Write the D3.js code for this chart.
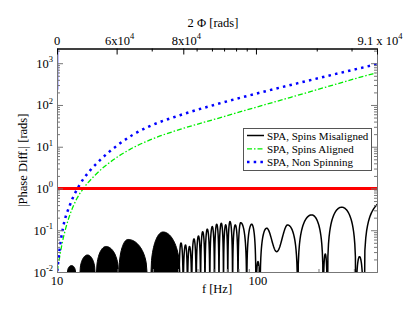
<!DOCTYPE html>
<html><head><meta charset="utf-8">
<script src="https://cdn.jsdelivr.net/npm/d3@7"></script>
<style>
body{margin:0;background:#fff}
svg{display:block}
svg text{font-family:"Liberation Serif","Times New Roman","DejaVu Serif",serif;fill:#000}
</style>
</head><body><svg id="c" width="415" height="321"></svg>
<script>
// ---------------- data ----------------
const freqDomain = [10, 391];
const phaseDiffDomain = [0.01, 2250];
const yMajorTicks = [0.01, 0.1, 1, 10, 100, 1000];
const yMajorExp = ["-2", "-1", "0", "1", "2", "3"];
const xLabelTicks = [10, 100];
const xLabelText = ["10", "100"];
// top axis (2 Phi): frequency at which each phase tick sits
const topMajorF = [10, 19.8, 42.5, 97.7, 391];
const topMajorBase = ["0", "6x10", "8x10", "", "9.1 x 10"];
const topMajorExp = ["", "4", "4", "", "4"];
const topMinorF = [29.6, 49.5, 59, 67.8, 77.8, 87.9, 196, 292];

// SPA, Non Spinning (blue dotted)
const nonSpinF = [10.03, 10.29, 10.71, 11.61, 12.87, 14.59, 16.37, 20.12, 23.88, 28.36, 40.92, 61.1, 98.9, 161.8, 373, 391];
const nonSpinV = [0.0105, 0.034, 0.114, 0.409, 1.16, 2.67, 4.77, 11.1, 19.4, 29.7, 56.9, 101.6, 188.8, 342, 900, 950];
const nonSpinSpike = [2250, 230];
// SPA, Spins Aligned (green dash-dot)
const alignedF = [10.03, 10.29, 10.59, 11.09, 11.61, 12.58, 13.47, 15.46, 19.06, 23.08, 29.02, 40.92, 61.1, 98.9, 161.8, 373, 385];
const alignedV = [0.0105, 0.0218, 0.0467, 0.119, 0.239, 0.582, 0.973, 2.08, 4.86, 8.66, 14.56, 26.0, 45.7, 89.6, 176.6, 557, 580];
// reference level
const unitLevel = [1];

// SPA, Spins Misaligned (black): dense blobs [fStart, fPeak, fEnd, peak]
const misBlobs = [
  [11.28, 11.81, 12.36, 0.0143],
  [13.02, 14.18, 15.46, 0.0256],
  [15.73, 17.53, 20.23, 0.0409],
  [20.35, 22.55, 28.04, 0.0602],
  [29.36, 33.7, 40.9, 0.091]
];
// individual lobes [fStart, fPeak, fEnd, peak, startVal, endVal]
const misLobes = [
  [40.45, 41.4, 42.46, 0.0496],
  [42.46, 43.59, 44.6, 0.0443],
  [44.6, 45.63, 46.79, 0.0409],
  [46.79, 48.04, 49.27, 0.0619],
  [49.27, 50.58, 51.81, 0.0729],
  [51.81, 53.07, 54.49, 0.092],
  [54.49, 55.95, 57.57, 0.106],
  [57.57, 59.24, 60.76, 0.122],
  [60.76, 62.31, 63.97, 0.139],
  [63.97, 65.68, 67.36, 0.147],
  [67.36, 69.07, 70.76, 0.134],
  [70.76, 72.56, 74.76, 0.161],
  [74.76, 77.12, 79.55, 0.134],
  [79.55, 82.04, 87.87, 0.152],
  [87.87, 93.04, 97.73, 0.139],
  [97.73, 100, 102.3, 0.0177],
  [102.3, 110.5, 123.9, 0.112, 0, 0.0307],
  [123.9, 140.5, 157.6, 0.134, 0.0307, 0],
  [157.6, 185.0, 211.3, 0.233],
  [211.3, 216.2, 221.2, 0.027],
  [221.2, 260.9, 307.4, 0.356],
  [307.4, 319.9, 334.1, 0.0233],
  [336.8, 430, 550, 0.5]
];

const legendNames = ["SPA, Spins Misaligned", "SPA, Spins Aligned", "SPA, Non Spinning"];

// ---------------- chart ----------------
const FONT = "Liberation Serif, Times New Roman, DejaVu Serif, serif";
const svg = d3.select("#c");
const L = 57, R = 377, T = 48.5, B = 272;
const x = d3.scaleLog().domain(freqDomain).range([L, R]);
const y = d3.scaleLog().domain(phaseDiffDomain).range([B, T]);

svg.append("defs").append("clipPath").attr("id", "clip")
  .append("rect").attr("x", L).attr("y", T).attr("width", R - L).attr("height", B - T);
const plot = svg.append("g").attr("clip-path", "url(#clip)");

const vmin = 1e-4;
function riseV(s, v0, pk) {
  if (v0 > 0) return Math.exp(Math.log(v0) + (Math.log(pk) - Math.log(v0)) * (1 - Math.cos(Math.PI * s)) / 2);
  return Math.max(vmin, pk * Math.sin(Math.PI / 2 * s));
}
function lobePts(lb) {
  const [f0, fp, f1, pk, v0 = 0, v1 = 0] = lb;
  const pts = [], N = 24;
  for (let i = 0; i <= N; i++) {
    const s = i / N;
    pts.push([Math.exp(Math.log(f0) + (Math.log(fp) - Math.log(f0)) * s), riseV(s, v0, pk)]);
  }
  for (let i = 1; i <= N; i++) {
    const s = i / N;
    pts.push([Math.exp(Math.log(fp) + (Math.log(f1) - Math.log(fp)) * s), riseV(1 - s, v1, pk)]);
  }
  return pts;
}
function blobPts(bb) {
  const [f0, fp, f1, pk] = bb;
  const lm = Math.log(phaseDiffDomain[0]), lp = Math.log(pk);
  const pts = [], N = 24;
  for (let i = 0; i <= N; i++) {
    const s = i / N;
    pts.push([Math.exp(Math.log(f0) + (Math.log(fp) - Math.log(f0)) * s), Math.exp(lm + (lp - lm) * Math.sqrt(1 - (1 - s) * (1 - s)))]);
  }
  for (let i = 1; i <= N; i++) {
    const s = i / N;
    pts.push([Math.exp(Math.log(fp) + (Math.log(f1) - Math.log(fp)) * s), Math.exp(lm + (lp - lm) * Math.sqrt(1 - s * s))]);
  }
  return pts;
}

// black blobs
const area = d3.area().x(d => x(d[0])).y0(B).y1(d => y(d[1]));
misBlobs.forEach(b => {
  plot.append("path").attr("d", area(blobPts(b))).attr("fill", "#000").attr("stroke", "#000").attr("stroke-width", 1);
});
// black lobes
const line = d3.line().x(d => x(d[0])).y(d => y(d[1]));
let blackPts = [];
misLobes.forEach(lb => { blackPts = blackPts.concat(lobePts(lb)); });
plot.append("path").attr("d", line(blackPts)).attr("fill", "none").attr("stroke", "#000").attr("stroke-width", 1.5);

// green
const curve = d3.line().x(d => x(d[0])).y(d => y(d[1])).curve(d3.curveMonotoneX);
plot.append("path").attr("d", curve(alignedF.map((f, i) => [f, alignedV[i]])))
  .attr("fill", "none").attr("stroke", "#00ee00").attr("stroke-width", 1.3)
  .attr("stroke-dasharray", "5,2,1.5,2");
// blue
plot.append("path").attr("d", curve(nonSpinF.map((f, i) => [f, nonSpinV[i]])))
  .attr("fill", "none").attr("stroke", "#0000ff").attr("stroke-width", 2.5)
  .attr("stroke-dasharray", "2.5,4.2");
plot.append("path").attr("d", line(nonSpinSpike.map(v => [freqDomain[0], v])))
  .attr("fill", "none").attr("stroke", "#0000ff").attr("stroke-width", 2.5);
// red reference line
plot.selectAll(".ref").data(unitLevel).enter().append("line")
  .attr("x1", L).attr("x2", R).attr("y1", d => y(d)).attr("y2", d => y(d))
  .attr("stroke", "#ff0000").attr("stroke-width", 3.2);

// ---------------- axes ----------------
const frameCol = "#777";
const allY = y.ticks().filter(v => v >= phaseDiffDomain[0] && v <= phaseDiffDomain[1]);
const minorY = allY.filter(v => !yMajorTicks.some(m => Math.abs(m - v) / m < 1e-6));
function styleAxis(g, col) {
  g.select(".domain").attr("stroke", col);
  g.selectAll(".tick line").attr("stroke", col);
  g.selectAll(".tick text").remove();
}
svg.append("g").attr("transform", `translate(${L},0)`)
  .call(d3.axisLeft(y).tickValues(minorY).tickSize(-3).tickSizeOuter(0)).call(g => styleAxis(g, frameCol));
svg.append("g").attr("transform", `translate(${L},0)`)
  .call(d3.axisLeft(y).tickValues(yMajorTicks).tickSize(-6).tickSizeOuter(0)).call(g => styleAxis(g, frameCol));
svg.append("g").attr("transform", `translate(${R},0)`)
  .call(d3.axisRight(y).tickValues(minorY).tickSize(-3).tickSizeOuter(0)).call(g => styleAxis(g, frameCol));
svg.append("g").attr("transform", `translate(${R},0)`)
  .call(d3.axisRight(y).tickValues(yMajorTicks).tickSize(-6).tickSizeOuter(0)).call(g => styleAxis(g, frameCol));
const allX = x.ticks().filter(v => v >= freqDomain[0] && v <= freqDomain[1]);
const minorX = allX.filter(v => !xLabelTicks.includes(v));
svg.append("g").attr("transform", `translate(0,${B})`)
  .call(d3.axisBottom(x).tickValues(minorX).tickSize(-3).tickSizeOuter(0)).call(g => styleAxis(g, frameCol));
svg.append("g").attr("transform", `translate(0,${B})`)
  .call(d3.axisBottom(x).tickValues(xLabelTicks).tickSize(-6).tickSizeOuter(0)).call(g => styleAxis(g, frameCol));
svg.append("g").attr("transform", `translate(0,${T})`)
  .call(d3.axisTop(x).tickValues(topMinorF).tickSize(-3).tickSizeOuter(0)).call(g => styleAxis(g, "#000"));
svg.append("g").attr("transform", `translate(0,${T})`)
  .call(d3.axisTop(x).tickValues(topMajorF).tickSize(-6).tickSizeOuter(0)).call(g => styleAxis(g, "#000"));

function txt(sel) { return sel.append("text").attr("font-family", FONT).style("font-family", FONT); }
function supLabel(px, py, base, exp, anchor) {
  const t = txt(svg).attr("x", px).attr("y", py).attr("text-anchor", anchor).attr("font-size", 12.5);
  t.append("tspan").text(base);
  if (exp) t.append("tspan").attr("dy", -5.5).attr("font-size", 8.5).text(exp);
  return t;
}
yMajorTicks.forEach((v, i) => supLabel(L - 4, y(v) + 4.5, "10", yMajorExp[i], "end"));
xLabelTicks.forEach((v, i) => supLabel(x(v), B + 13, xLabelText[i], "", "middle"));
topMajorF.forEach((f, i) => { if (topMajorBase[i]) supLabel(x(f) + (topMajorExp[i] ? 3 : 0), T - 4, topMajorBase[i], topMajorExp[i], "middle"); });

txt(svg).attr("x", (L + R) / 2).attr("y", 293).attr("text-anchor", "middle").attr("font-size", 12.5).text("f [Hz]");
txt(svg).attr("x", 213).attr("y", 27).attr("text-anchor", "middle").attr("font-size", 12.5).text("2 Φ [rads]");
txt(svg).attr("transform", `translate(27,${(T + B) / 2}) rotate(-90)`).attr("text-anchor", "middle")
  .attr("font-size", 12.5).text("|Phase Diff.| [rads]");

// ---------------- legend ----------------
const lg = svg.append("g");
lg.append("rect").attr("x", 243.5).attr("y", 128.5).attr("width", 128).attr("height", 42)
  .attr("fill", "#fff").attr("stroke", "#555").attr("stroke-width", 1);
const legStyles = [
  {col: "#000", w: 1.5, dash: null},
  {col: "#00ee00", w: 1.3, dash: "5,2,1.5,2"},
  {col: "#0000ff", w: 2.5, dash: "2.5,4.2"}
];
legendNames.forEach((n, i) => {
  const yy = 135.5 + i * 13.3;
  const ln = lg.append("line").attr("x1", 247).attr("x2", 264).attr("y1", yy).attr("y2", yy)
    .attr("stroke", legStyles[i].col).attr("stroke-width", legStyles[i].w);
  if (legStyles[i].dash) ln.attr("stroke-dasharray", legStyles[i].dash);
  txt(lg).attr("x", 267).attr("y", yy + 4).attr("font-size", 11).text(n);
});
</script>
</body></html>
